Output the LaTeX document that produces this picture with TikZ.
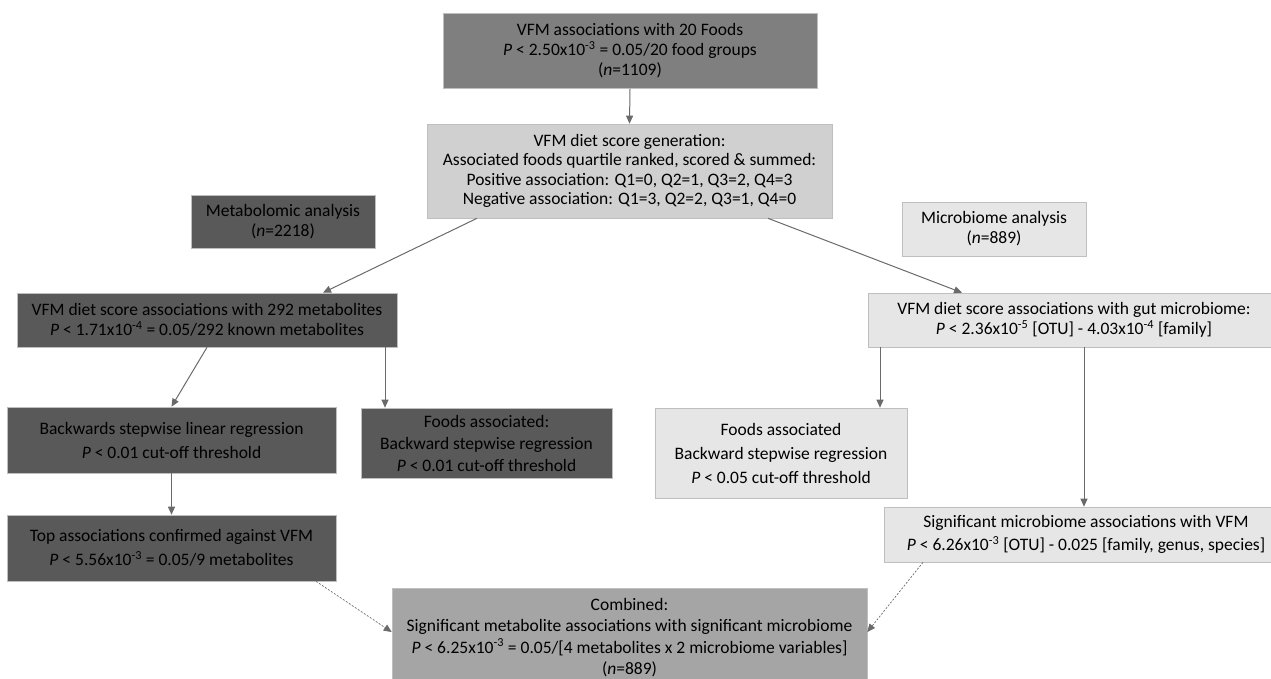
\documentclass[tikz,border=0pt]{standalone}
\usepackage{fontspec}
\setmainfont{Carlito}
\usetikzlibrary{arrows.meta,calc}
\definecolor{dkbox}{HTML}{595959}
\definecolor{mdbox}{HTML}{7F7F7F}
\definecolor{cbbox}{HTML}{A5A5A5}
\definecolor{ltbox}{HTML}{D0D0D0}
\definecolor{vlbox}{HTML}{E6E6E6}
\definecolor{edge}{HTML}{BFBFBF}
\definecolor{conn}{HTML}{6A6A6A}
\newcommand{\Pv}{\textit{P}}
\newcommand{\ee}[1]{\textsuperscript{#1}}
\begin{document}
\begin{tikzpicture}[x=1pt,y=-1pt,
  box/.style={draw=edge, line width=0.6pt, align=center, inner sep=0pt, text=black},
  fs/.style={font=\fontsize{17.5}{#1}\selectfont},
  arr/.style={draw=conn, line width=1pt, -{Triangle[length=8pt,width=7pt]}},
  darr/.style={draw=conn, line width=0.7pt, dash pattern=on 2pt off 1.6pt, -{Triangle[length=8pt,width=7pt]}}]
\useasboundingbox (0,0) rectangle (1271,678);

\node[box, fill=mdbox, minimum width=374pt, minimum height=75pt, fs=20] (b1) at (630,51)
  {VFM associations with 20 Foods\\ \Pv{} < 2.50x10\ee{-3} = 0.05/20 food groups\\ (\textit{n}=1109)};

\node[box, fill=ltbox, minimum width=405pt, minimum height=94pt, fs=19.5] (b2) at (629.5,171)
  {VFM diet score generation:\\ Associated foods quartile ranked, scored \& summed:\\ Positive association: Q1=0, Q2=1, Q3=2, Q4=3\\ Negative association: Q1=3, Q2=2, Q3=1, Q4=0};

\node[box, fill=dkbox, minimum width=184pt, minimum height=53pt, fs=20] (meta) at (283,221.5)
  {Metabolomic analysis\\ (\textit{n}=2218)};

\node[box, fill=vlbox, minimum width=184pt, minimum height=54pt, fs=20] (micro) at (994,229)
  {Microbiome analysis\\ (\textit{n}=889)};

\node[box, fill=dkbox, minimum width=380pt, minimum height=54pt, fs=20] (m292) at (207,320)
  {VFM diet score associations with 292 metabolites\\ \Pv{} < 1.71x10\ee{-4} = 0.05/292 known metabolites};

\node[box, fill=vlbox, minimum width=412pt, minimum height=54pt, fs=20] (gut) at (1074,320)
  {VFM diet score associations with gut microbiome:\\ \Pv{} < 2.36x10\ee{-5} [OTU] - 4.03x10\ee{-4} [family]};

\node[box, fill=dkbox, minimum width=329pt, minimum height=66pt, fs=24] (back) at (171.5,440)
  {Backwards stepwise linear regression\\ \Pv{} < 0.01 cut-off threshold};

\node[box, fill=dkbox, minimum width=251pt, minimum height=70pt, fs=22] (foodsD) at (486.5,443)
  {Foods associated:\\ Backward stepwise regression\\ \Pv{} < 0.01 cut-off threshold};

\node[box, fill=vlbox, minimum width=252pt, minimum height=90pt, fs=24] (foodsL) at (781,453)
  {Foods associated\\ Backward stepwise regression\\ \Pv{} < 0.05 cut-off threshold};

\node[box, fill=dkbox, minimum width=329pt, minimum height=66pt, fs=24] (top) at (171.5,548)
  {Top associations confirmed against VFM\\ \Pv{} < 5.56x10\ee{-3} = 0.05/9 metabolites};

\node[box, fill=vlbox, minimum width=404pt, minimum height=55pt, fs=23] (sig) at (1086,534.5)
  {Significant microbiome associations with VFM\\ \Pv{} < 6.26x10\ee{-3} [OTU] - 0.025 [family, genus, species]};

\node[box, fill=cbbox, minimum width=475pt, minimum height=99pt, fs=21.5] (comb) at (629.5,637.5)
  {Combined:\\ Significant metabolite associations with significant microbiome\\ \Pv{} < 6.25x10\ee{-3} = 0.05/[4 metabolites x 2 microbiome variables]\\ (\textit{n}=889)};

% connectors
\draw[arr] (b1.south) -- (b2.north);
\draw[arr] ([xshift=-152.5pt]b2.south) -- ([xshift=116pt]m292.north);
\draw[arr] ([xshift=138.5pt]b2.south) -- ([xshift=-112pt]gut.north);
\draw[arr] (m292.south) -- (back.north);
\draw[arr] ([xshift=178pt]m292.south) -- ([xshift=178pt]m292.south |- foodsD.north);
\draw[arr] ([xshift=-194pt]gut.south) -- ([xshift=-194pt]gut.south |- foodsL.north);
\draw[arr] ([xshift=10pt]gut.south) -- ([xshift=10pt]gut.south |- sig.north);
\draw[arr] (back.south) -- (top.north);
\draw[darr] ([xshift=144.5pt]top.south) -- ([yshift=5.5pt]comb.west);
\draw[darr] ([xshift=-163pt]sig.south) -- ([yshift=5.5pt]comb.east);
\end{tikzpicture}
\end{document}
